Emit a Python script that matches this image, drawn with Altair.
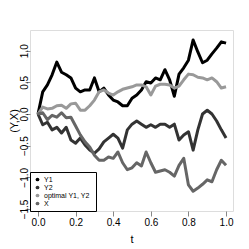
import altair as alt
import pandas as pd

t = [i * 0.025 for i in range(41)]

y1 = [0.0, 0.35, 0.46, 0.62, 0.82, 0.66, 0.62, 0.57, 0.41, 0.35, 0.38, 0.38, 0.57, 0.35,
      0.41, 0.30, 0.22, 0.19, 0.13, 0.13, 0.25, 0.30, 0.38, 0.51, 0.49, 0.57, 0.54, 0.70,
      0.54, 0.28, 0.63, 0.73, 0.85, 1.17, 0.98, 0.81, 0.85, 0.95, 1.04, 1.14, 1.12]

y2 = [0.0, -0.17, -0.13, -0.25, -0.21, -0.30, -0.21, -0.41, -0.46, -0.38, -0.49, -0.57,
      -0.62, -0.55, -0.44, -0.38, -0.32, -0.38, -0.54, -0.25, -0.16, -0.11, -0.16, -0.21,
      -0.17, -0.21, -0.16, -0.16, -0.21, -0.16, -0.41, -0.33, -0.28, -0.57, -0.25, 0.0,
      0.06, 0.0, -0.11, -0.25, -0.38]

opt = [0.0, 0.11, 0.08, 0.09, 0.13, 0.14, 0.09, 0.16, 0.17, 0.06, 0.06, 0.13, 0.22, 0.35,
       0.38, 0.33, 0.30, 0.35, 0.39, 0.41, 0.43, 0.46, 0.46, 0.43, 0.30, 0.44, 0.47, 0.47,
       0.46, 0.41, 0.44, 0.54, 0.63, 0.62, 0.58, 0.57, 0.54, 0.57, 0.51, 0.41, 0.43]

x = [0.0, 0.02, -0.09, -0.02, -0.05, 0.02, -0.06, -0.05, -0.19, -0.33, -0.44, -0.52,
     -0.65, -0.73, -0.73, -0.68, -0.70, -0.60, -0.77, -0.88, -0.85, -0.77, -0.82, -0.60,
     -0.77, -0.92, -0.90, -0.88, -0.92, -0.98, -0.81, -0.70, -1.12, -1.22, -1.17, -1.11,
     -1.04, -1.07, -0.88, -0.73, -0.81]

series_names = ["Y1", "Y2", "optimal  Y1, Y2", "X"]
series_colors = ["#000000", "#333333", "#999999", "#666666"]

rows = []
for name, vals in zip(series_names, [y1, y2, opt, x]):
    for ti, v in zip(t, vals):
        rows.append({"t": ti, "v": v, "s": name})
df = pd.DataFrame(rows)

font = "Liberation Sans"

xenc = alt.X("t:Q", scale=alt.Scale(domain=[-0.0426, 1.037], nice=False, zero=False),
             axis=alt.Axis(values=[0, 0.2, 0.4, 0.6, 0.8, 1.0], format=".1f", title="t",
                           grid=False, tickSize=5, labelPadding=1, titlePadding=6,
                           titleFontWeight="normal", domain=False))
yenc = alt.Y("v:Q", scale=alt.Scale(domain=[-1.532, 1.327], nice=False, zero=False),
             axis=alt.Axis(values=[-1.5, -1.0, -0.5, 0.0, 0.5, 1.0], format=".1f",
                           title="(Y,X)", grid=False, tickSize=5, labelAngle=-90,
                           labelAlign="center", labelBaseline="bottom", labelPadding=-4,
                           titlePadding=0, titleFontWeight="normal", domain=False))
cscale = alt.Scale(domain=series_names, range=series_colors)

leg = alt.Legend(title=None, orient="bottom-left", offset=0,
                 symbolType="circle", symbolSize=14,
                 symbolOpacity=1, symbolStrokeWidth=0, symbolFillColor=None,
                 strokeColor="#000000", fillColor="#ffffff",
                 padding=4, rowPadding=0, labelFontSize=7,
                 labelFont=font, labelColor="#000000",
                 symbolOffset=0, labelOffset=3, cornerRadius=0)

lines = alt.Chart(df).mark_line(strokeWidth=3, strokeJoin="round").encode(
    x=xenc, y=yenc,
    color=alt.Color("s:N", scale=cscale, sort=series_names, legend=leg),
    order=alt.Order("t:Q"),
)

keys = alt.Chart(df).mark_circle(opacity=0, size=14).encode(
    x=xenc, y=yenc,
    color=alt.Color("s:N", scale=cscale, sort=series_names, legend=leg),
)

chart = alt.layer(keys, lines).properties(
    width=203, height=181,
    autosize=alt.AutoSizeParams(type="none"),
    padding={"left": 22, "top": 22, "right": 8, "bottom": 36},
).configure_view(
    stroke="#777777", strokeWidth=1
).configure_axis(
    labelFont=font, titleFont=font, labelFontSize=7, titleFontSize=7,
    titleFontWeight="normal", labelColor="#444444", titleColor="#444444",
    tickColor="#777777"
).configure_legend(
    symbolSize=14
).configure(background="#ffffff")

chart.save("out.html", embed_options={"renderer": "svg", "actions": False})
